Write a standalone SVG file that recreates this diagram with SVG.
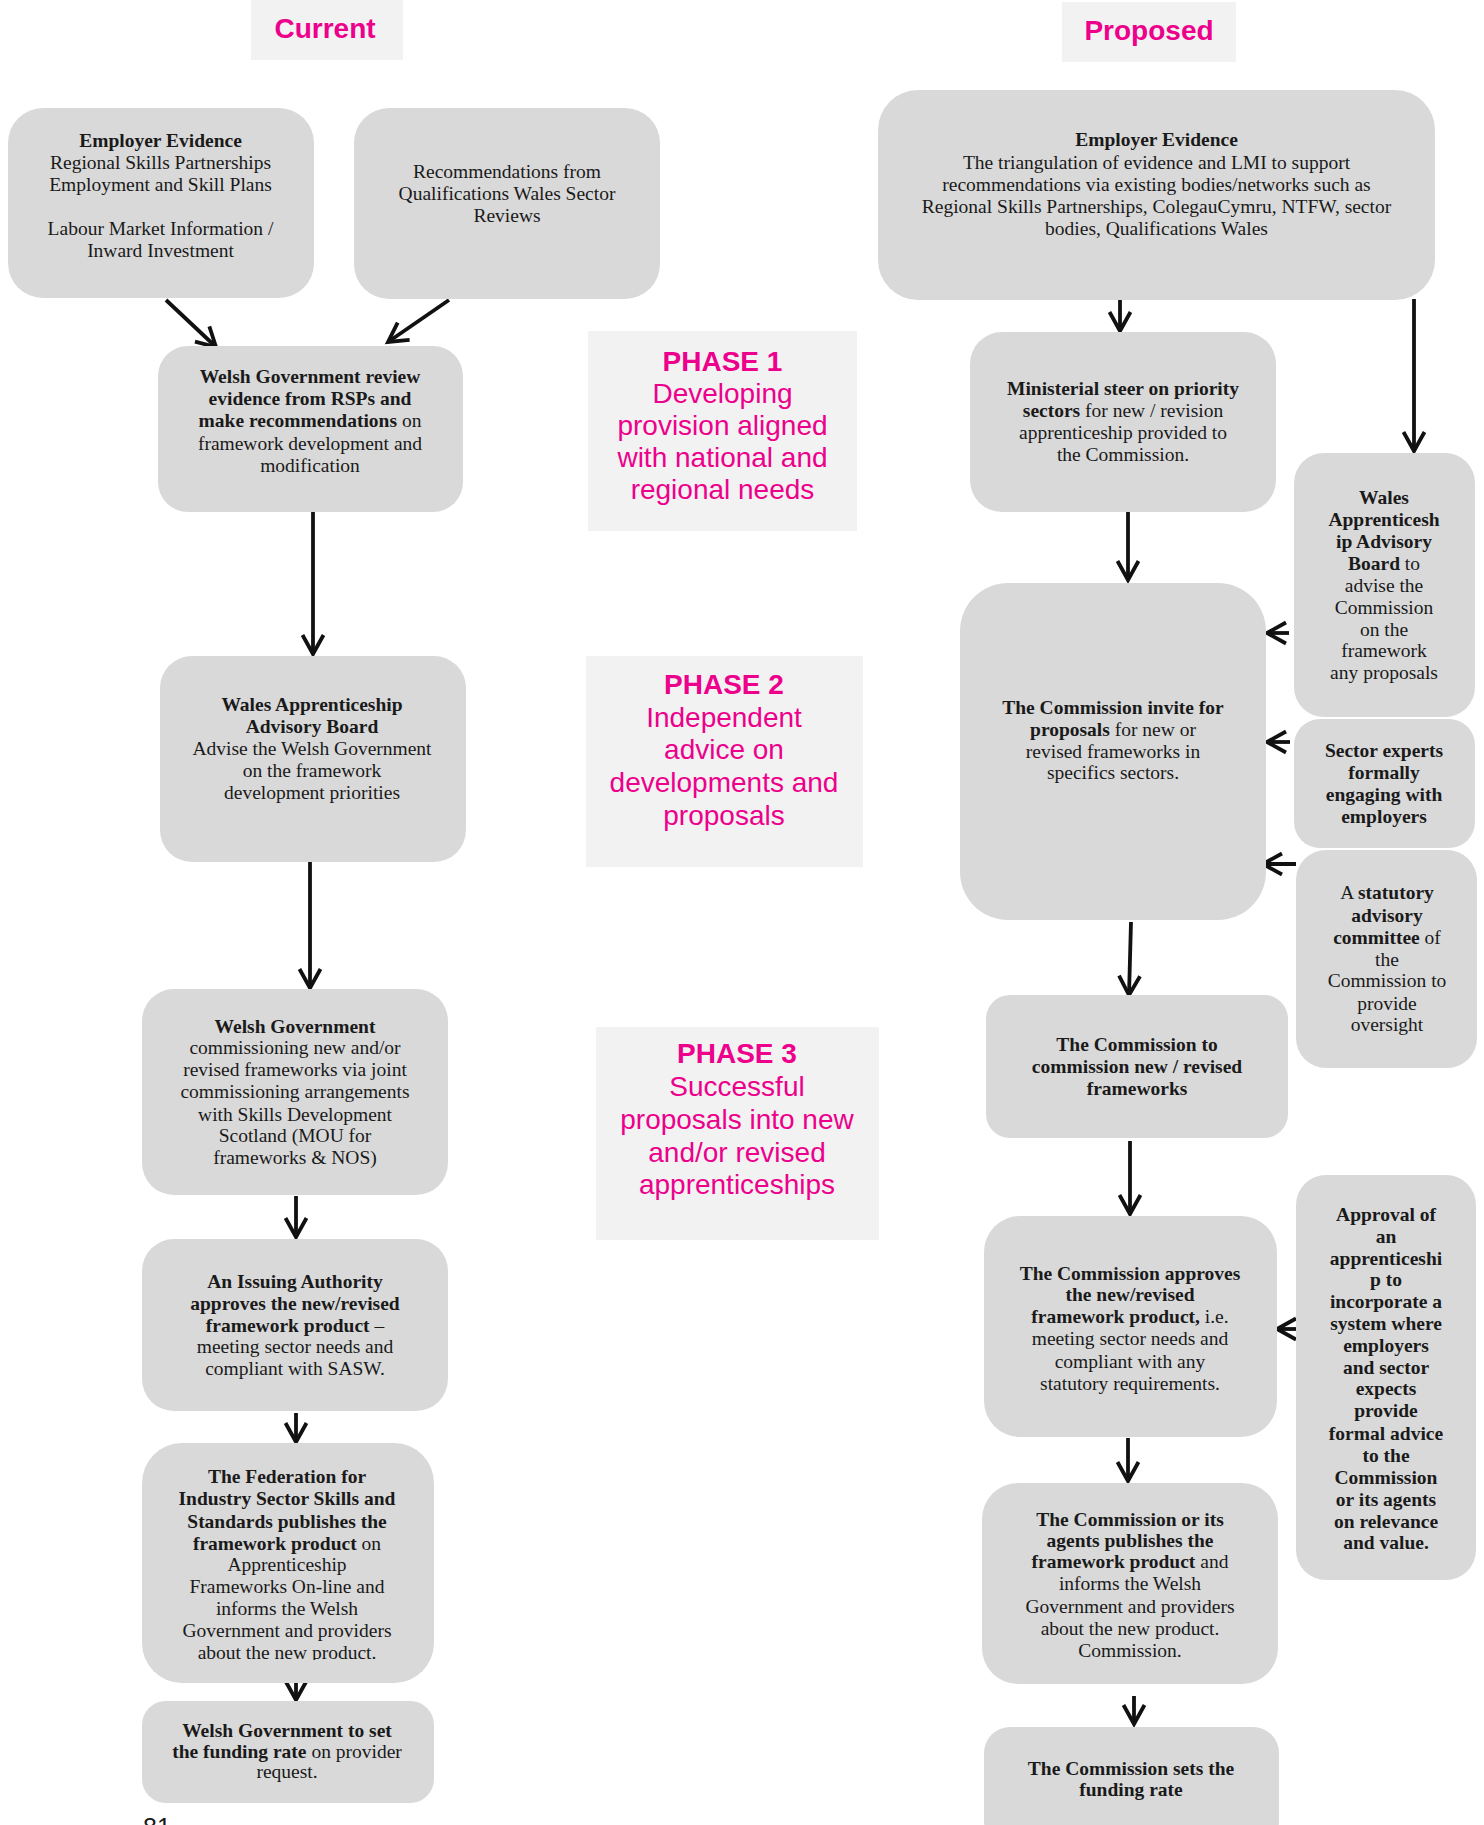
<svg xmlns="http://www.w3.org/2000/svg" width="1484" height="1825" viewBox="0 0 1484 1825">
<style>
.bg{fill:#ffffff}
.nd{fill:#D9D9D9}
.hd{fill:#F2F2F2}
.t{font-family:"Liberation Serif","Times New Roman",serif;font-size:19.5px;fill:#1a1a1a;text-anchor:middle}
.b{font-weight:bold}
.ph{font-family:"Liberation Sans",Arial,sans-serif;font-size:28px;fill:#EC008C;text-anchor:middle}
.hdt{font-family:"Liberation Sans",Arial,sans-serif;font-size:28px;font-weight:bold;fill:#EC008C;text-anchor:middle}
.c{stroke:#111;stroke-width:3.8;fill:none;marker-end:url(#ah)}
.pg{font-family:"Liberation Sans",Arial,sans-serif;font-size:25px;fill:#1a1a1a}
</style>
<defs>
<marker id="ah" markerUnits="userSpaceOnUse" markerWidth="26" markerHeight="26" viewBox="0 0 26 26" refX="21" refY="13" orient="auto" overflow="visible">
<path d="M2,2.5 L21,13 L2,23.5" fill="none" stroke="#111" stroke-width="3.8"/>
</marker>
<clipPath id="clipG"><rect x="142" y="1443" width="292" height="217"/></clipPath>
</defs>
<rect class="bg" x="0" y="0" width="1484" height="1825"/>

<g id="hdr-current"><rect class="hd" x="251" y="0" width="152" height="60"/><text class="hdt" x="325" y="38">Current</text></g>
<g id="hdr-proposed"><rect class="hd" x="1062" y="2" width="174" height="60"/><text class="hdt" x="1149" y="40">Proposed</text></g>

<g id="phase1"><rect class="hd" x="588" y="331" width="269" height="200"/>
<text class="ph"><tspan x="722.5" y="371" font-weight="bold">PHASE 1</tspan><tspan x="722.5" y="403">Developing</tspan><tspan x="722.5" y="435">provision aligned</tspan><tspan x="722.5" y="467">with national and</tspan><tspan x="722.5" y="499">regional needs</tspan></text></g>
<g id="phase2"><rect class="hd" x="586" y="656" width="277" height="211"/>
<text class="ph"><tspan x="724" y="694" font-weight="bold">PHASE 2</tspan><tspan x="724" y="727">Independent</tspan><tspan x="724" y="759">advice on</tspan><tspan x="724" y="792">developments and</tspan><tspan x="724" y="825">proposals</tspan></text></g>
<g id="phase3"><rect class="hd" x="596" y="1027" width="283" height="213"/>
<text class="ph"><tspan x="737" y="1063" font-weight="bold">PHASE 3</tspan><tspan x="737" y="1096">Successful</tspan><tspan x="737" y="1129">proposals into new</tspan><tspan x="737" y="1162">and/or revised</tspan><tspan x="737" y="1194">apprenticeships</tspan></text></g>

<g id="connectors">
<line class="c" x1="166" y1="300" x2="216" y2="347"/>
<line class="c" x1="449" y1="300" x2="388" y2="342"/>
<line class="c" x1="313" y1="509" x2="313" y2="654"/>
<line class="c" x1="310" y1="862" x2="310" y2="988"/>
<line class="c" x1="296" y1="1196" x2="296" y2="1237"/>
<line class="c" x1="296" y1="1413" x2="296" y2="1442"/>
<line class="c" x1="296" y1="1670" x2="296" y2="1700"/>
<line class="c" x1="1120" y1="300" x2="1120" y2="331"/>
<line class="c" x1="1414" y1="299" x2="1414" y2="451"/>
<line class="c" x1="1128" y1="512" x2="1128" y2="580"/>
<line class="c" x1="1289" y1="633" x2="1267" y2="633"/>
<line class="c" x1="1290" y1="742" x2="1267" y2="742"/>
<line class="c" x1="1296" y1="864" x2="1263" y2="864"/>
<line class="c" x1="1131" y1="922" x2="1129" y2="995"/>
<line class="c" x1="1130" y1="1141" x2="1130" y2="1214"/>
<line class="c" x1="1296" y1="1329" x2="1277" y2="1329"/>
<line class="c" x1="1128" y1="1438" x2="1128" y2="1481"/>
<line class="c" x1="1134" y1="1696" x2="1134" y2="1724"/>
</g>

<g id="cur-employer-evidence"><rect class="nd" x="8" y="108" width="306" height="190" rx="35"/>
<text class="t"><tspan x="160.5" y="147" class="b">Employer Evidence</tspan><tspan x="160.5" y="169">Regional Skills Partnerships</tspan><tspan x="160.5" y="191">Employment and Skill Plans</tspan><tspan x="160.5" y="235">Labour Market Information /</tspan><tspan x="160.5" y="257">Inward Investment</tspan></text></g>

<g id="cur-recommendations"><rect class="nd" x="354" y="108" width="306" height="191" rx="35"/>
<text class="t"><tspan x="507" y="178">Recommendations from</tspan><tspan x="507" y="200">Qualifications Wales Sector</tspan><tspan x="507" y="222">Reviews</tspan></text></g>

<g id="cur-wg-review"><rect class="nd" x="158" y="346" width="305" height="166" rx="30"/>
<text class="t"><tspan x="310" y="383" class="b">Welsh Government review</tspan><tspan x="310" y="405" class="b">evidence from RSPs and</tspan><tspan x="310" y="427"><tspan class="b">make recommendations</tspan> on</tspan><tspan x="310" y="450">framework development and</tspan><tspan x="310" y="472">modification</tspan></text></g>

<g id="cur-waab"><rect class="nd" x="160" y="656" width="306" height="206" rx="32"/>
<text class="t"><tspan x="312" y="711" class="b">Wales Apprenticeship</tspan><tspan x="312" y="733" class="b">Advisory Board</tspan><tspan x="312" y="755">Advise the Welsh Government</tspan><tspan x="312" y="777">on the framework</tspan><tspan x="312" y="799">development priorities</tspan></text></g>

<g id="cur-wg-commissioning"><rect class="nd" x="142" y="989" width="306" height="206" rx="32"/>
<text class="t"><tspan x="295" y="1033" class="b">Welsh Government</tspan><tspan x="295" y="1054">commissioning new and/or</tspan><tspan x="295" y="1076">revised frameworks via joint</tspan><tspan x="295" y="1098">commissioning arrangements</tspan><tspan x="295" y="1121">with Skills Development</tspan><tspan x="295" y="1142">Scotland (MOU for</tspan><tspan x="295" y="1164">frameworks &amp; NOS)</tspan></text></g>

<g id="cur-issuing-authority"><rect class="nd" x="142" y="1239" width="306" height="172" rx="32"/>
<text class="t"><tspan x="295" y="1288" class="b">An Issuing Authority</tspan><tspan x="295" y="1310" class="b">approves the new/revised</tspan><tspan x="295" y="1332"><tspan class="b">framework product</tspan> –</tspan><tspan x="295" y="1353">meeting sector needs and</tspan><tspan x="295" y="1375">compliant with SASW.</tspan></text></g>

<g id="cur-federation"><rect class="nd" x="142" y="1443" width="292" height="240" rx="40"/>
<text class="t" clip-path="url(#clipG)"><tspan x="287" y="1483" class="b">The Federation for</tspan><tspan x="287" y="1505" class="b">Industry Sector Skills and</tspan><tspan x="287" y="1528" class="b">Standards publishes the</tspan><tspan x="287" y="1550"><tspan class="b">framework product</tspan> on</tspan><tspan x="287" y="1571">Apprenticeship</tspan><tspan x="287" y="1593">Frameworks On-line and</tspan><tspan x="287" y="1615">informs the Welsh</tspan><tspan x="287" y="1637">Government and providers</tspan><tspan x="287" y="1659">about the new product.</tspan></text></g>

<g id="cur-funding"><rect class="nd" x="142" y="1701" width="292" height="102" rx="24"/>
<text class="t"><tspan x="287" y="1737" class="b">Welsh Government to set</tspan><tspan x="287" y="1758"><tspan class="b">the funding rate</tspan> on provider</tspan><tspan x="287" y="1778">request.</tspan></text></g>

<text class="pg" x="143" y="1836">81</text>

<g id="prop-employer-evidence"><rect class="nd" x="878" y="90" width="557" height="210" rx="40"/>
<text class="t"><tspan x="1156.5" y="146" class="b">Employer Evidence</tspan><tspan x="1156.5" y="169">The triangulation of evidence and LMI to support</tspan><tspan x="1156.5" y="191">recommendations via existing bodies/networks such as</tspan><tspan x="1156.5" y="213">Regional Skills Partnerships, ColegauCymru, NTFW, sector</tspan><tspan x="1156.5" y="235">bodies, Qualifications Wales</tspan></text></g>

<g id="prop-ministerial"><rect class="nd" x="970" y="332" width="306" height="180" rx="32"/>
<text class="t"><tspan x="1123" y="395" class="b">Ministerial steer on priority</tspan><tspan x="1123" y="417"><tspan class="b">sectors</tspan> for new / revision</tspan><tspan x="1123" y="439">apprenticeship provided to</tspan><tspan x="1123" y="461">the Commission.</tspan></text></g>

<g id="prop-waab"><rect class="nd" x="1294" y="453" width="181" height="264" rx="30"/>
<text class="t"><tspan x="1384" y="504" class="b">Wales</tspan><tspan x="1384" y="526" class="b">Apprenticesh</tspan><tspan x="1384" y="548" class="b">ip Advisory</tspan><tspan x="1384" y="570"><tspan class="b">Board</tspan> to</tspan><tspan x="1384" y="592">advise the</tspan><tspan x="1384" y="614">Commission</tspan><tspan x="1384" y="636">on the</tspan><tspan x="1384" y="657">framework</tspan><tspan x="1384" y="679">any proposals</tspan></text></g>

<g id="prop-sector-experts"><rect class="nd" x="1294" y="719" width="181" height="129" rx="26"/>
<text class="t b"><tspan x="1384" y="757">Sector experts</tspan><tspan x="1384" y="779">formally</tspan><tspan x="1384" y="801">engaging with</tspan><tspan x="1384" y="823">employers</tspan></text></g>

<g id="prop-statutory"><rect class="nd" x="1296" y="850" width="181" height="218" rx="30"/>
<text class="t"><tspan x="1387" y="899">A <tspan class="b">statutory</tspan></tspan><tspan x="1387" y="922" class="b">advisory</tspan><tspan x="1387" y="944"><tspan class="b">committee</tspan> of</tspan><tspan x="1387" y="966">the</tspan><tspan x="1387" y="987">Commission to</tspan><tspan x="1387" y="1010">provide</tspan><tspan x="1387" y="1031">oversight</tspan></text></g>

<g id="prop-invite"><rect class="nd" x="960" y="583" width="306" height="337" rx="48"/>
<text class="t"><tspan x="1113" y="714" class="b">The Commission invite for</tspan><tspan x="1113" y="736"><tspan class="b">proposals</tspan> for new or</tspan><tspan x="1113" y="758">revised frameworks in</tspan><tspan x="1113" y="779">specifics sectors.</tspan></text></g>

<g id="prop-commission"><rect class="nd" x="986" y="995" width="302" height="143" rx="24"/>
<text class="t b"><tspan x="1137" y="1051">The Commission to</tspan><tspan x="1137" y="1073">commission new / revised</tspan><tspan x="1137" y="1095">frameworks</tspan></text></g>

<g id="prop-approves"><rect class="nd" x="984" y="1216" width="293" height="221" rx="36"/>
<text class="t"><tspan x="1130" y="1280" class="b">The Commission approves</tspan><tspan x="1130" y="1301" class="b">the new/revised</tspan><tspan x="1130" y="1323"><tspan class="b">framework product,</tspan> i.e.</tspan><tspan x="1130" y="1345">meeting sector needs and</tspan><tspan x="1130" y="1368">compliant with any</tspan><tspan x="1130" y="1390">statutory requirements.</tspan></text></g>

<g id="prop-approval-system"><rect class="nd" x="1296" y="1175" width="180" height="405" rx="30"/>
<text class="t b"><tspan x="1386" y="1221">Approval of</tspan><tspan x="1386" y="1243">an</tspan><tspan x="1386" y="1265">apprenticeshi</tspan><tspan x="1386" y="1286">p to</tspan><tspan x="1386" y="1308">incorporate a</tspan><tspan x="1386" y="1330">system where</tspan><tspan x="1386" y="1352">employers</tspan><tspan x="1386" y="1374">and sector</tspan><tspan x="1386" y="1395">expects</tspan><tspan x="1386" y="1417">provide</tspan><tspan x="1386" y="1440">formal advice</tspan><tspan x="1386" y="1462">to the</tspan><tspan x="1386" y="1484">Commission</tspan><tspan x="1386" y="1506">or its agents</tspan><tspan x="1386" y="1528">on relevance</tspan><tspan x="1386" y="1549">and value.</tspan></text></g>

<g id="prop-publishes"><rect class="nd" x="982" y="1483" width="296" height="201" rx="36"/>
<text class="t"><tspan x="1130" y="1526" class="b">The Commission or its</tspan><tspan x="1130" y="1547" class="b">agents publishes the</tspan><tspan x="1130" y="1568"><tspan class="b">framework product</tspan> and</tspan><tspan x="1130" y="1590">informs the Welsh</tspan><tspan x="1130" y="1613">Government and providers</tspan><tspan x="1130" y="1635">about the new product.</tspan><tspan x="1130" y="1657">Commission.</tspan></text></g>

<g id="prop-funding"><rect class="nd" x="984" y="1727" width="295" height="120" rx="26"/>
<text class="t b"><tspan x="1131" y="1775">The Commission sets the</tspan><tspan x="1131" y="1796">funding rate</tspan></text></g>
</svg>
